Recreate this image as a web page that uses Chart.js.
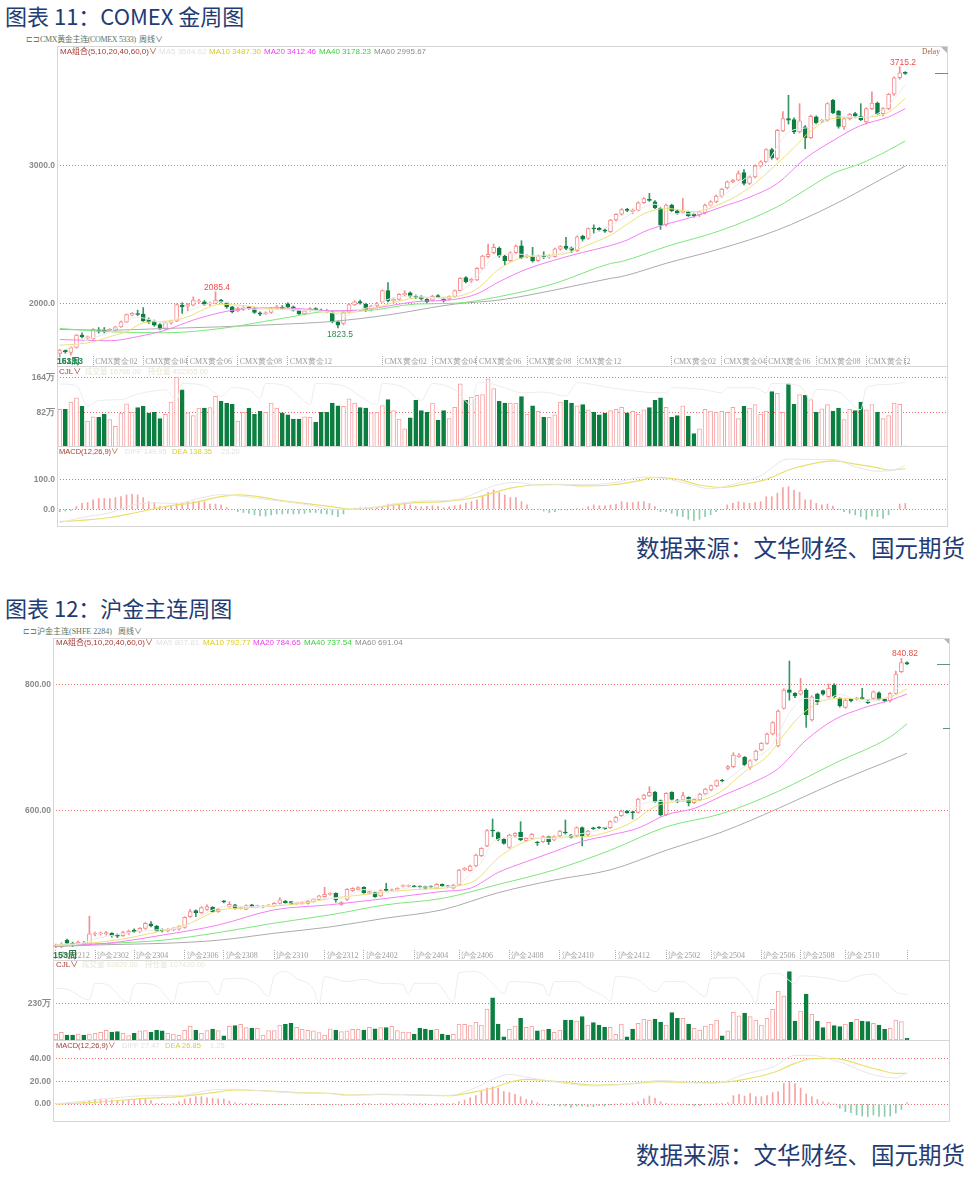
<!DOCTYPE html>
<html><head><meta charset="utf-8">
<script src="https://cdn.jsdelivr.net/npm/chart.js@4.4.1/dist/chart.umd.min.js"></script>
<style>
html,body{margin:0;padding:0;background:#fff}
body{position:relative;width:971px;height:1177px;overflow:hidden;font-family:"Noto Sans CJK SC",sans-serif}
canvas{position:absolute}
.t{position:absolute;white-space:nowrap;line-height:1;transform:translateY(-50%);z-index:3}
.title{font-size:22px;color:#1f3c74}
.src{font-size:23.5px;color:#1f3c74}
.hdr{font-size:8px;color:#5b735f;font-family:"Liberation Serif","Noto Sans CJK SC",serif}
.lg{font-size:8px;font-family:"Liberation Sans","Noto Sans CJK SC",sans-serif}
.pl{font-size:7.5px}
.rd{color:#a83a32}
.box{position:absolute;border:1px solid #d6d6d6;box-sizing:border-box;z-index:2}
.hl{position:absolute;height:1px;background:#d6d6d6;z-index:2}
.mk{position:absolute;z-index:2}
</style></head><body>

<div class="t title" style="left:5px;top:15px">图表 11：COMEX 金周图</div>
<div class="t hdr" style="left:26px;top:40px;font-size:7.5px;color:#6b806b">⊏⊐</div>
<div class="t hdr" style="left:40px;top:40px;letter-spacing:-0.35px">CMX黄金主连(COMEX 5333)</div>
<div class="t hdr" style="left:139px;top:40px">周线∨</div>
<div class="t lg rd" style="left:60px;top:52px">MA组合(5,10,20,40,60,0)∨</div>
<div class="t lg" style="left:159px;top:52px;color:#e2e2e2">MA5 3584.62</div>
<div class="t lg" style="left:209px;top:52px;color:#dccd1a">MA10 3487.30</div>
<div class="t lg" style="left:264px;top:52px;color:#f23cf2">MA20 3412.46</div>
<div class="t lg" style="left:319px;top:52px;color:#35d435">MA40 3178.23</div>
<div class="t lg" style="left:374px;top:52px;color:#8c8c8c">MA60 2995.67</div>
<div class="t hdr" style="left:922px;top:52px;font-size:7.5px;color:#a2603c">Delay</div>
<div class="t lg" style="left:204px;top:287px;font-size:8.5px;color:#f04a4a">2085.4</div>
<div class="t lg" style="left:327px;top:334px;font-size:8.5px;color:#2a8a55">1823.5</div>
<div class="t lg" style="left:890px;top:62px;font-size:8.5px;color:#f04a4a">3715.2</div>
<div class="t lg" style="left:57px;top:361px;font-size:8.5px;font-weight:bold;color:#2a8a55">1613.3</div>
<div class="t lg" style="left:57px;top:361px;font-size:8.5px;font-weight:bold;color:#2a8a55">153周</div>
<div class="t lg rd pl" style="left:59px;top:372px;font-size:8px">CJL∨</div>
<div class="t lg pl" style="left:85px;top:372px;color:#e9e5d3">成交量 16786.00</div>
<div class="t lg pl" style="left:148px;top:372px;color:#e9e5d3">持仓量 402355.00</div>
<div class="t lg rd pl" style="left:59px;top:451.5px">MACD(12,26,9)∨</div>
<div class="t lg pl" style="left:125px;top:451.5px;color:#e2e2e2">DIFF 149.95</div>
<div class="t lg pl" style="left:172px;top:451.5px;color:#dccd2a">DEA 138.35</div>
<div class="t lg pl" style="left:221px;top:451.5px;color:#e2e2e2">23.20</div>
<div class="t src" style="right:6px;top:548px">数据来源：文华财经、国元期货</div>
<div class="box" style="left:57px;top:46px;width:891px;height:481px"></div>
<div class="hl" style="left:57px;top:366px;width:891px"></div>
<div class="hl" style="left:57px;top:446px;width:891px"></div>
<div class="mk" style="left:935px;top:73px;width:13px;height:1px;background:#6f8f74"></div>
<div class="mk" style="left:941px;top:47px;width:0;height:0;border-top:6px solid #b5b5b5;border-left:6px solid transparent"></div>

<div class="t title" style="left:5px;top:607px">图表 12：沪金主连周图</div>
<div class="t hdr" style="left:23px;top:632px;font-size:7.5px;color:#6b806b">⊏⊐</div>
<div class="t hdr" style="left:37px;top:632px">沪金主连(SHFE 2284)</div>
<div class="t hdr" style="left:118px;top:632px">周线∨</div>
<div class="t lg rd" style="left:56px;top:643px">MA组合(5,10,20,40,60,0)∨</div>
<div class="t lg" style="left:156px;top:643px;color:#e2e2e2">MA5 807.81</div>
<div class="t lg" style="left:203px;top:643px;color:#dccd1a">MA10 792.77</div>
<div class="t lg" style="left:253px;top:643px;color:#f23cf2">MA20 784.65</div>
<div class="t lg" style="left:304px;top:643px;color:#35d435">MA40 737.54</div>
<div class="t lg" style="left:355px;top:643px;color:#8c8c8c">MA60 691.04</div>
<div class="t lg" style="left:892px;top:653px;font-size:8.5px;color:#f04a4a">840.82</div>
<div class="t lg" style="left:53px;top:955px;font-size:9px;font-weight:bold;color:#2a7a45">153周</div>
<div class="t lg rd pl" style="left:56px;top:965px;font-size:8px">CJL∨</div>
<div class="t lg pl" style="left:82px;top:965px;color:#e9e5d3">成交量 92820.00</div>
<div class="t lg pl" style="left:145px;top:965px;color:#e9e5d3">持仓量 107420.00</div>
<div class="t lg rd pl" style="left:56px;top:1046px">MACD(12,26,9)∨</div>
<div class="t lg pl" style="left:122px;top:1046px;color:#e2e2e2">DIFF 27.47</div>
<div class="t lg pl" style="left:165px;top:1046px;color:#dccd2a">DEA 26.85</div>
<div class="t lg pl" style="left:210px;top:1046px;color:#e2e2e2">1.25</div>
<div class="t src" style="right:6px;top:1155px">数据来源：文华财经、国元期货</div>
<div class="box" style="left:53px;top:638px;width:897px;height:484px"></div>
<div class="hl" style="left:53px;top:960px;width:897px"></div>
<div class="hl" style="left:53px;top:1040px;width:897px"></div>
<div class="mk" style="left:937px;top:664px;width:13px;height:1px;background:#6f8f74"></div>
<div class="mk" style="left:943px;top:728px;width:7px;height:1px;background:#6f8f74"></div>
<div class="mk" style="left:944px;top:639px;width:0;height:0;border-top:5px solid #b5b5b5;border-left:5px solid transparent"></div>

<script>
// ---------------- COMEX gold weekly (chart 11) ----------------
const cmxTickIdx  = [6,15,23,32,41,58,67,75,84,93,110,119,127,136,145,152];
const cmxTickText = ['CMX黄金02','CMX黄金04','CMX黄金06','CMX黄金08','CMX黄金12','CMX黄金02','CMX黄金04','CMX黄金06','CMX黄金08','CMX黄金12','CMX黄金02','CMX黄金04','CMX黄金06','CMX黄金08','CMX黄金12',' '];
const cmxOpen = [1638,1660,1645,1681,1771,1748,1746,1805,1805,1802, 1807,1831,1867,1915,1926,1923,1884,1872,1848,1819, 1858,1872,1988,1981,1988,2012,2012,1995,2005,2024, 2005,1976,1947,1957,1973,1964,1932,1926,1935,1964, 1970,1998,1976,1950,1925,1952,1964,1952,1943,1935, 1867,1855,1935,1990,2014,1996,1953,1982,2013,2093, 2020,2030,2062,2078,2054,2050,2030,2025,2057,2037, 2033,2050,2093,2187,2163,2170,2255,2340,2368,2400, 2344,2310,2368,2418,2340,2344,2310,2342,2336,2340, 2394,2416,2404,2383,2489,2472,2546,2545,2533,2520, 2605,2648,2680,2665,2677,2730,2753,2737,2689,2569, 2713,2672,2660,2665,2648,2641,2658,2713,2737,2778, 2838,2882,2894,2949,2870,2918,2995,3027,3116,3051, 3251,3340,3333,3243,3280,3202,3352,3320,3328,3472, 3395,3280,3340,3376,3357,3316,3412,3453,3376,3412, 3516,3636,3675];
const cmxHigh = [1668,1668,1686,1776,1787,1765,1818,1826,1826,1818, 1836,1872,1925,1935,1952,1971,1895,1880,1855,1868, 1880,1998,2005,2000,2048,2030,2022,2010,2085,2030, 2010,1980,1972,1978,1980,1970,1940,1940,1970,1985, 1985,2005,1982,1955,1952,1970,1970,1960,1955,1945, 1872,1940,2000,2020,2025,2000,1988,2008,2098,2151, 2040,2072,2093,2085,2062,2058,2035,2060,2065,2042, 2056,2098,2188,2195,2182,2260,2350,2431,2431,2410, 2350,2375,2425,2455,2355,2407,2350,2375,2352,2402, 2420,2480,2410,2490,2495,2548,2570,2552,2540,2610, 2652,2688,2690,2685,2738,2768,2798,2745,2695,2720, 2720,2680,2761,2670,2655,2670,2720,2745,2785,2835, 2888,2900,2960,2970,2925,3005,3035,3122,3125,3262, 3390,3509,3345,3448,3290,3365,3360,3335,3455,3480, 3400,3348,3378,3385,3448,3420,3533,3460,3420,3522, 3642,3715.2,3680];
const cmxLow = [1613,1640,1625,1676,1750,1742,1740,1785,1787,1795, 1800,1826,1862,1910,1912,1870,1855,1835,1810,1812, 1850,1868,1928,1947,1982,2000,1985,1985,2000,2005, 1965,1932,1940,1950,1955,1928,1912,1920,1928,1958, 1955,1970,1945,1920,1918,1945,1950,1940,1932,1860, 1823.5,1845,1930,1985,1995,1942,1945,1975,2008,2012, 2010,2025,2055,2045,2035,2025,2005,2018,2038,2010, 2025,2045,2088,2150,2150,2165,2250,2330,2360,2335, 2280,2305,2360,2325,2330,2300,2305,2325,2328,2335, 2385,2390,2370,2378,2450,2465,2508,2525,2515,2515, 2598,2640,2665,2650,2670,2725,2740,2688,2537,2560, 2665,2645,2655,2630,2625,2630,2650,2705,2730,2770, 2830,2875,2888,2860,2862,2910,2988,3020,3045,3040, 3245,3300,3230,3235,3122,3195,3300,3310,3320,3375, 3270,3262,3330,3345,3325,3300,3405,3370,3360,3405, 3508,3625,3660];
const cmxClose = [1662,1650,1681,1771,1758,1758,1812,1800,1798,1812, 1831,1867,1920,1928,1920,1874,1867,1843,1819,1862, 1872,1993,1976,1993,2024,2019,1995,2002,2024,2014, 1976,1940,1964,1971,1969,1935,1923,1932,1964,1976, 1965,1976,1950,1925,1947,1964,1955,1945,1940,1867, 1843,1935,1993,2013,2002,1948,1982,2001,2093,2020, 2030,2066,2074,2054,2045,2033,2013,2054,2045,2020, 2050,2093,2182,2158,2175,2255,2344,2356,2407,2344, 2310,2368,2416,2332,2346,2308,2344,2338,2344,2396, 2412,2399,2387,2484,2467,2542,2540,2533,2525,2605, 2646,2680,2675,2677,2730,2761,2747,2694,2569,2713, 2672,2653,2668,2636,2634,2665,2713,2737,2778,2829, 2882,2894,2942,2870,2918,2998,3027,3116,3055,3255, 3340,3328,3243,3323,3202,3357,3308,3325,3448,3381, 3284,3340,3371,3357,3333,3412,3453,3376,3412,3516, 3636,3672,3667];
const cmxMA5  = [[1,1650],[5,1720],[10,1795],[15,1900],[20,1860],[25,1960],[30,2012],[35,1960],[40,1955],[45,1950],[50,1934],[52,1906],[55,1957],[57,1975],[60,2030],[65,2055],[70,2035],[75,2150],[79,2330],[83,2360],[88,2335],[93,2400],[97,2505],[101,2585],[105,2680],[108,2720],[111,2650],[115,2650],[120,2775],[124,2900],[128,3020],[132,3240],[136,3280],[140,3360],[145,3350],[149,3400],[153,3584.62]];
const cmxMA10 = [[1,1698],[4,1705],[7,1722],[10,1760],[13,1795],[16,1860],[20,1872],[24,1903],[27,1960],[30,1995],[34,1985],[39,1962],[45,1955],[51,1930],[56,1950],[60,1995],[65,2040],[72,2050],[76,2106],[80,2250],[84,2330],[88,2348],[92,2363],[96,2425],[100,2495],[103,2575],[106,2650],[110,2689],[115,2665],[120,2725],[125,2840],[130,3015],[133,3130],[136,3250],[140,3340],[145,3348],[150,3386],[153,3487.3]];
const cmxMA20 = [[1,1739],[10,1730],[15,1760],[20,1807],[25,1880],[30,1935],[35,1965],[40,1969],[45,1960],[50,1947],[56,1957],[65,2013],[72,2030],[76,2070],[80,2158],[85,2250],[90,2315],[95,2370],[100,2420],[103,2460],[106,2520],[110,2575],[115,2629],[120,2700],[125,2770],[130,2870],[135,3050],[140,3180],[145,3290],[150,3352],[153,3412.46]];
const cmxMA40 = [[1,1819],[10,1795],[20,1788],[30,1819],[40,1885],[50,1945],[56,1948],[65,1996],[72,2002],[80,2050],[90,2146],[100,2290],[102,2304],[110,2412],[120,2532],[130,2701],[135,2822],[140,2942],[145,3014],[150,3111],[153,3178.23]];
const cmxMA60 = [[1,1812],[10,1807],[20,1819],[30,1831],[40,1848],[50,1870],[60,1917],[72,1996],[80,2025],[90,2098],[100,2182],[102,2195],[110,2291],[120,2400],[130,2532],[140,2713],[150,2930],[153,2995.67]];
const cmxVol = [89,89,106,116,96,61,71,70,78,65, 49,80,102,82,93,96,80,82,67,77, 106,165,135,81,74,92,92,93,120,108, 104,101,61,82,92,77,84,82,104,92, 81,76,66,66,71,70,58,82,82,104, 97,96,114,104,93,92,81,82,98,112, 86,66,43,69,110,86,82,104,63,86, 67,94,149,110,118,122,124,161,138,108, 104,104,104,119,78,97,84,70,70,76, 106,110,104,97,100,88,82,76,80,86, 89,94,81,84,78,88,93,110,116,94, 70,74,97,73,32,43,89,85,82,84, 82,94,67,96,92,100,78,85,131,127, 82,149,101,124,122,112,82,90,100,85, 92,65,89,86,106,88,100,82,67,74, 104,101,2];
const cmxOI = [[1,149],[4,145],[6,96],[8,110],[12,112],[15,125],[20,135],[22,110],[23,150],[27,145],[30,120],[32,140],[35,135],[37,115],[38,150],[42,142],[44,120],[46,100],[47,150],[52,145],[55,120],[58,100],[59,150],[63,140],[66,110],[68,150],[72,135],[75,100],[76,150],[77,153],[81,140],[84,128],[88,130],[92,120],[94,152],[100,140],[106,130],[110,128],[111,140],[117,135],[120,128],[121,140],[126,140],[128,128],[129,150],[134,145],[136,112],[137,136],[141,130],[145,88],[146,140],[150,148],[153,153]];
const cmxHist = [-8,-6,-4,9,20,23,32,37,37,37, 40,43,49,51,49,40,26,23,9,7, 9,20,20,26,26,28,26,18,18,15, 6,0,-8,-11,-14,-19,-23,-23,-19,-16, -16,-14,-16,-14,-14,-11,-11,-14,-16,-19, -25,-16,-2,3,6,6,3,6,9,18, 18,18,20,15,10,8,10,12,10,5, 8,12,15,20,26,32,43,58,66,57, 49,40,40,26,15,0,0,-6,-11,-8, -2,-2,-2,1,1,9,15,12,12,15, 18,26,23,23,26,26,20,9,-8,-8, -14,-23,-25,-34,-39,-34,-25,-19,-8,0, 15,20,26,23,20,23,26,43,43,55, 74,77,66,58,32,32,20,15,18,11, 0,-8,-14,-19,-25,-34,-23,-25,-31,-19, 0,18,20];
const cmxDEA  = [[1,-42],[6,-36],[10,-28],[15,-10],[20,9],[25,23],[30,43],[33,49],[36,45],[40,32],[45,20],[50,9],[53,1],[57,5],[60,12],[65,23],[70,26],[76,41],[82,72],[86,83],[90,85],[95,80],[100,83],[105,97],[108,109],[112,103],[116,83],[120,75],[124,86],[128,102],[132,134],[136,154],[140,165],[144,154],[148,142],[150,134],[153,138.35]];
const cmxDIFF = [[1,-46],[5,-28],[10,-12],[14,14],[18,22],[22,20],[26,37],[30,50],[34,44],[38,34],[42,25],[46,14],[50,0],[53,0],[58,8],[62,21],[66,28],[72,32],[76,57],[79,80],[83,92],[87,83],[91,84],[96,84],[101,92],[106,110],[110,104],[114,86],[118,70],[122,85],[127,115],[132,172],[136,170],[140,170],[144,145],[148,130],[151,134],[153,149.95]];

// ---------------- SHFE gold weekly (chart 12) ----------------
const sheTickIdx  = [0,7,14,23,30,39,48,55,64,72,81,90,100,109,117,126,133,141,152];
const sheTickText = ['沪金2212','沪金2302','沪金2304','沪金2306','沪金2308','沪金2310','沪金2312','沪金2402','沪金2404','沪金2406','沪金2408','沪金2410','沪金2412','沪金2502','沪金2504','沪金2506','沪金2508','沪金2510',' '];
const sheOpen = [386,386,396.4,391,390,392,390,405.4,406,406, 407,405,403.3,407,412.2,409.6,414.8,421.7,418.5,413.3, 410.6,412.2,413.3,416.4,433.3,442.7,439.6,444.8,448,441.1, 457.5,449,451.7,446,444.8,451.7,449,448.5,450,450.6, 454.3,458,456.9,453.8,454,454.3,456.9,460.6,464.8,468.5, 470.1,452.7,460.6,474.3,476.4,479.5,470.1,471.1,465.9,475.8, 474.5,475.3,481,481.2,481.5,481,480.6,481,478,484.3, 481.5,478,483.2,506.9,505.8,513.2,529.5,544.8,570,565.8, 555.3,542.7,560.5,566.3,553.2,556.9,550.8,551.6,559.5,554.2, 560.5,566.8,562.1,560.5,573.7,562.1,573,574.2,573.2,573.7, 583.2,592.6,600,598.4,597.9,618.9,623.7,629.5,616.3,593.7, 629.5,617.4,617.4,621.6,613.2,617.4,626.8,633.1,639.5,648.9, 667.3,670,685.7,684.7,668.9,680.5,696.3,706.8,721.5,702.6, 762,791.3,785.7,784.6,790.9,743.6,784.6,789.9,780.4,798.8, 777.8,763.6,776.2,776.8,778.3,773.6,777.8,786.7,776.2,773.6, 785.7,819.9,834.1];
const sheHigh = [390,392,398,393,395,394,434,409,409,410, 408,406,410,412,414,416,424,425.4,419.5,414, 415,416,419,433,444.8,444,449,451.7,449,446, 458.5,456.9,452.7,448.5,452,452.7,451.5,451,452.5,455.5, 463.2,459,457.5,456,456.5,459,462,467,479.5,471, 471,457,477.5,479,480.5,480.6,474,472,475.5,485.9, 477,479,483.5,483.4,482.5,482,481.5,482,485.5,485, 482.5,484.5,508,510.5,514.5,532,542,570.5,587.4,567, 556.5,563.5,566,583.2,558,564.5,552,561,560.5,561, 569.5,585.8,563,575,575,569.5,574.5,575.5,574,584.5, 591.5,601.5,601,599.5,620,626.5,638.4,631,617.5,629, 630.5,618.5,629.5,622.5,619.5,628,636,641,649,650, 672,692,690.5,686,681,696,708,723,741,759.5, 793,836.7,787,809.3,793,782,786,791,800.4,801, 779,776.5,777.5,779.5,793.6,775,789.5,788,777,787, 821,840.82,835.5];
const sheLow = [384,384,389,386,388,389,389,403,404,404, 401,400,402,405,408,408,413,417,410,409, 409,411,412,415,432,433.3,438,443,440,440, 455,448,445,445,444,448,448,447,449,449.5, 453,454,452,452.5,453,453,456,459.5,463.5,467, 456,451,459,473,475.5,470,469,463.5,465,473.5, 473.5,474,480,480.2,479,478.5,477,478.5,477,480.5, 479,477,482,506,505,512,528,543.5,559.5,553, 547.5,541,559,553,552,555.5,545.5,550.5,547,553, 559.5,563.5,557,559.5,544.8,561,570.5,572,571,572.5, 582,591.5,596,587.4,597,618,622.5,613.5,592,592.5, 617,613,616,608,612,616,626,632,638.5,646, 665,668.5,684.5,671,665.7,679,695,705.5,720,701, 761,775,779,783,732,742,768,783,779,779, 764,762,772,775,776,769.5,776.5,775,772,772, 784.5,818.5,831];
const sheClose = [388.5,390,391.2,388.5,393,390.5,406,407,407.5,408, 403.3,402.5,408,410.6,409.6,414.8,422.7,418.5,411.2,410.6, 413.3,414.8,417.5,432.3,441.1,439.6,447.5,449,441.1,444.8, 456.5,452.7,446.4,447,450.6,449,450,449.5,451,454.3, 459.6,455.4,453.2,454.8,455,458,461.1,465.9,468.5,469.5, 459.6,455.4,476.4,478,479,471.1,472.7,464.8,474.3,474.8, 475.8,478,482,482.2,480.3,480,478,480,484.3,481.6, 480.4,483.2,506.9,509.5,513.2,530.6,541.1,569,568.4,555.3, 549,562.1,564.7,554.2,556.9,563.2,549.5,559.5,551.6,559.5, 568.4,565.3,558.4,573.7,560.5,568.4,572,573.2,572.2,583.2, 590,600,597.4,597.4,618.9,625.2,629.5,614.7,593.7,627.9, 618.4,614.7,624.2,613.2,618.4,626.8,634.7,640,647.9,647.3, 670,688.4,688.4,672.6,679.4,694.7,706.8,721.5,739.4,757.8, 791,787.3,781.5,789.9,751.5,780.4,772.5,784.6,793.6,780.4, 765.7,775.2,774.1,777.8,777.3,771,788.3,776.2,773.6,785.7, 816.2,834.1,832];
const sheMA5  = [[1,388],[5,390],[8,398],[12,405],[16,410],[20,413],[24,418],[28,440],[32,450],[36,449],[40,451],[44,456],[48,462],[52,462],[56,476],[60,472],[64,479],[68,480],[72,481],[74,492],[77,520],[79,550],[82,558],[86,558],[90,556],[94,563],[98,570],[102,588],[106,612],[109,615],[113,617],[117,625],[121,650],[125,678],[129,705],[132,755],[135,778],[138,775],[141,784],[145,773],[149,778],[153,807.81]];
const sheMA10 = [[1,389],[10,394],[20,411],[25,423],[30,443],[35,447],[40,450],[45,454],[50,462],[55,467],[60,472],[65,476],[70,478],[73,482],[76,491],[80,526],[85,552],[90,559],[95,559],[100,568],[104,583],[108,607],[112,615],[116,617],[120,632],[124,662],[128,686],[131,720],[134,751],[138,774],[142,778],[146,776],[150,780],[153,792.77]];
const sheMA20 = [[1,387],[10,391],[20,404],[30,420],[40,444],[50,452],[60,462],[70,473],[75,478],[80,503],[85,520],[90,536],[95,552],[100,562],[105,573],[110,594],[115,604],[120,624],[125,643],[130,667],[135,712],[140,744],[145,762],[150,775],[153,784.65]];
const sheMA40 = [[1,389],[10,391],[20,396],[30,408],[40,423],[50,436],[60,452],[70,462],[80,484],[90,507],[100,538],[110,575],[120,596],[130,631],[140,675],[150,717],[153,737.54]];
const sheMA60 = [[1,386],[10,389],[20,391],[30,396],[40,407],[50,417],[60,431],[70,444],[80,471],[90,491],[100,507],[110,538],[120,567],[130,604],[140,644],[150,680],[153,691.04]];
const sheVol = [36,49,32,32,38,30,38,43,49,62, 51,53,43,28,43,58,60,49,62,58, 43,38,30,62,87,62,43,60,70,60, 26,87,92,100,79,75,75,32,60,60, 96,100,106,81,68,62,58,47,32,72, 62,53,58,68,68,64,81,72,79,79, 87,60,51,51,38,75,70,64,68,38, 32,36,102,100,92,113, 96,198,270,102,21,68,89,138,81,89, 58,64,68,49,64,128,128,121,149,96, 111,96,81,81,36,102,21,70,106,132, 128,134,113,96,175,138,138,102,75,64, 89,102,128,26,58,177,155,172,149,128, 96,138,196,313,281,437,121,185,294,164, 121,79,113,92,85,102,113,132,121,117, 106,96,68,75,128,117,11];
const sheOI = [[1,330],[3,324],[7,256],[8,362],[10,356],[14,239],[15,351],[16,362],[19,345],[22,239],[23,362],[28,373],[30,288],[31,388],[34,394],[37,351],[39,277],[40,409],[42,437],[44,394],[47,324],[48,234],[49,405],[53,373],[56,388],[59,362],[63,356],[64,292],[65,362],[69,362],[72,245],[73,430],[76,437],[77,426],[79,362],[81,298],[82,373],[88,351],[89,281],[90,373],[94,373],[96,330],[99,277],[100,249],[101,405],[105,383],[108,309],[110,373],[113,373],[115,324],[117,277],[118,394],[122,398],[125,298],[126,234],[127,405],[130,426],[133,362],[134,409],[139,394],[142,373],[144,405],[147,422],[149,373],[151,309],[153,288]];
const sheHist = [0.3,0.3,0.5,0.3,0.5,2,3,4,4.4,4, 3.5,3,2.6,3,3.5,4.4,4.4,3,0.6,0.6, 0,0.6,2,4.4,5,6.4,6.4,5.5,5,4.4, 4.4,2.6,1.2,0.6,0.3,0.3,0.2,-0.3,-0.5,-0.5, -0.6,-0.8,-0.6,-0.6,-0.6,-0.8,-0.6,-0.6,-0.5,-0.3, -0.8,-1.2,-0.5,-0.3,0.3,0.3,0.2,-0.3,0.2,0.3, 0.6,0.3,0.6,0.6,0.6,0.3,0.3,-0.2,0.2,0.3, 0.5,0.6,2,3.5,5.5,7.3, 11,14,15,14,11,10,8.5,6.4,4,3, 1.2,0,-1.5,-1.5,-1.8,-1.8,-3,-1.8,-1.8,-2.3, -2.3,-1.5,-1.8,-0.9,0,0.6,0.6,1.2,2,4.4, 7,5,2,0.6,0,0,0,-0.9,-1.5,-1.5, 0,0,0.6,0.6,1.2,7.3,8.5,7,9.3,6.4, 6.4,7.3,10,10.8,18,19.6,18,14,8.8,6.4, 4,2,1.2,0,-3.8,-6.7,-7.6,-9.6,-10.5,-11, -9.6,-11,-11,-10.5,-8,-4.7,1.25];
const sheDEA  = [[1,0],[8,1.5],[17,5],[23,6.4],[29,10],[33,12.3],[38,11.7],[44,10],[50,9.3],[53,7.9],[59,8.5],[65,7.9],[71,7.3],[76,10.8],[79,14],[82,19],[85,21.6],[91,19.6],[97,16.6],[103,17.5],[109,19.6],[115,18.7],[119,18.7],[124,21.6],[129,27.4],[133,35.6],[136,39.7],[140,40],[142,38.5],[145,34],[148,30],[151,26.9],[153,26.85]];
const sheDIFF = [[1,0.2],[8,3.5],[17,7.2],[23,7.4],[29,12.5],[33,12.9],[38,11.5],[44,9.7],[50,9.1],[53,7.6],[59,8.5],[65,8.2],[71,7.5],[76,14.4],[79,21.5],[82,26],[85,23.6],[91,18.7],[97,15.8],[103,17.5],[109,20.6],[115,18.7],[119,18.4],[124,26.2],[129,32.4],[133,42.6],[136,42.7],[140,38.1],[142,35.2],[145,28.8],[148,24.5],[151,22.9],[152,24.7],[153,27.47]];

// ---------------- rendering ----------------
const PINK='#f58e8e', GREEN='#0b7e40', GWICK='#3a9464', VPINK='#f7a1a1', HPOS='#f5a3a3', HNEG='#8dcdae';
const MAC={ma5:'#ebebeb', ma10:'#ece07a', ma20:'#f57ef5', ma40:'#7de67d', ma60:'#ababab'};
Chart.defaults.font.family='Liberation Sans';

function sparse(n, pairs){ const a=new Array(n).fill(null); pairs.forEach(p=>{ a[p[0]-1]=p[1]; }); return a; }
function canvasAt(top, w, h){
  const c=document.createElement('canvas');
  c.width=w; c.height=h;
  c.style.left='0px'; c.style.top=top+'px'; c.style.width=w+'px'; c.style.height=h+'px';
  document.body.appendChild(c); return c;
}
function zeroPad(s){ s.paddingTop=0; s.paddingBottom=0; s.paddingLeft=0; s.paddingRight=0; }
function yScale(axisW, min, max, ticks, fmt){
  return { type:'linear', position:'left', min:min, max:max,
    afterFit(s){ s.width=axisW; zeroPad(s); },
    afterBuildTicks(s){ s.ticks=ticks.map(v=>({value:v})); },
    ticks:{ callback:(v)=>fmt(v), color:'#8a8a8a', font:{family:'Liberation Sans', size:8.5, weight:'bold'}, padding:2, autoSkip:false },
    grid:{ color:'#f26c6c', lineWidth:1, drawTicks:false },
    border:{ display:false, dash:[1,2] } };
}
function xHidden(){ return { type:'category', offset:true, display:false, grid:{display:false} }; }
function xShown(){
  return { type:'category', offset:true,
    afterFit(s){ s.height=10; zeroPad(s); },
    grid:{ display:true, drawOnChartArea:false, drawTicks:true, tickLength:10, offset:false,
      tickColor:(ctx)=> (ctx.tick && ctx.tick.label) ? '#a9a9a9' : 'rgba(0,0,0,0)',
      tickBorderDash:[1,1], tickWidth:1 },
    border:{display:false},
    ticks:{ autoSkip:false, maxRotation:0, minRotation:0, align:'start', padding:-9,
      color:'#9c9c9c', font:{family:'Liberation Serif', size:8},
      callback(v){ const l=this.getLabelForValue(v); return l ? ' '+l : ''; } } };
}
function opts(padR, padT, x, y){
  return { responsive:false, maintainAspectRatio:false, animation:false, events:[], devicePixelRatio:1,
    layout:{ autoPadding:false, padding:{left:0,right:padR,top:padT,bottom:0} },
    plugins:{ legend:{display:false}, tooltip:{enabled:false} },
    scales:{ x:x, y:y } };
}
function lineDS(data, color, w){
  return { type:'line', data:data, borderColor:color, borderWidth:w||1, pointRadius:0, spanGaps:true,
    cubicInterpolationMode:'monotone', fill:false, order:0, clip:false };
}
function drawSet(S){
  const n=S.open.length;
  const up=S.open.map((o,i)=> S.close[i]>=o);
  const labels=new Array(S.slots).fill('');
  S.tickIdx.forEach((ix,k)=>{ labels[ix]=S.tickText[k]; });

  new Chart(canvasAt(S.priceTop, S.width, S.priceH), {
    type:'bar',
    data:{ labels:labels, datasets:[
      lineDS(sparse(n,S.ma5), MAC.ma5),
      lineDS(sparse(n,S.ma10), MAC.ma10),
      lineDS(sparse(n,S.ma20), MAC.ma20),
      lineDS(sparse(n,S.ma40), MAC.ma40),
      lineDS(sparse(n,S.ma60), MAC.ma60),
      { type:'bar', data:S.open.map((o,i)=>[o,S.close[i]]),
        backgroundColor:up.map(u=>u?'#ffffff':GREEN), borderColor:up.map(u=>u?PINK:GREEN),
        borderWidth:1, borderSkipped:false, barThickness:4, minBarLength:1, grouped:false, order:1, clip:false },
      { type:'bar', data:S.low.map((l,i)=>[l,S.high[i]]),
        backgroundColor:up.map(u=>u?PINK:GWICK), borderWidth:0, barThickness:1, grouped:false, order:2, clip:false }
    ]},
    options: opts(S.padR, S.pricePadT, xShown(), yScale(S.axisW, S.priceMin, S.priceMax, S.priceTicks, S.priceFmt))
  });

  new Chart(canvasAt(S.volTop, S.width, S.volH), {
    type:'bar',
    data:{ labels:labels, datasets:[
      lineDS(sparse(n,S.oi), '#ececec'),
      { type:'bar', data:S.vol, backgroundColor:up.map(u=>u?'#ffffff':GREEN), borderColor:up.map(u=>u?VPINK:GREEN),
        borderWidth:1, borderSkipped:false, barThickness:4, grouped:false, order:1 }
    ]},
    options: opts(S.padR, 0, xHidden(), yScale(S.axisW, 0, S.volMax, S.volTicks, v=>v+'万'))
  });

  new Chart(canvasAt(S.macdTop, S.width, S.macdH), {
    type:'bar',
    data:{ labels:labels, datasets:[
      lineDS(sparse(n,S.diff), '#e6e6e6'),
      lineDS(sparse(n,S.dea), '#ebdf6b', 1.2),
      { type:'bar', data:S.hist, backgroundColor:S.hist.map(h=>h>=0?HPOS:HNEG), barThickness:1, grouped:false, order:1 }
    ]},
    options: opts(S.padR, 0, xHidden(), yScale(S.axisW, S.macdMin, S.macdMax, S.macdTicks, S.macdFmt))
  });
}

drawSet({ slots:160, width:950, axisW:57, padR:3,
  priceTop:46, priceH:320, pricePadT:4, priceMin:1619.57, priceMax:3836.96, priceTicks:[2000,3000], priceFmt:v=>v.toFixed(1),
  volTop:366, volH:81, volMax:191.4, volTicks:[82,164],
  macdTop:447, macdH:79, macdMin:-57, macdMax:212.6, macdTicks:[0,100], macdFmt:v=>v.toFixed(1),
  open:cmxOpen, high:cmxHigh, low:cmxLow, close:cmxClose, vol:cmxVol, oi:cmxOI,
  ma5:cmxMA5, ma10:cmxMA10, ma20:cmxMA20, ma40:cmxMA40, ma60:cmxMA60,
  hist:cmxHist, dea:cmxDEA, diff:cmxDIFF, tickIdx:cmxTickIdx, tickText:cmxTickText });

drawSet({ slots:160, width:952, axisW:53, padR:3,
  priceTop:638, priceH:322, pricePadT:7, priceMin:380.58, priceMax:862.04, priceTicks:[600,800], priceFmt:v=>v.toFixed(2),
  volTop:960, volH:80, volMax:511.1, volTicks:[230],
  macdTop:1040, macdH:81, macdMin:-14.91, macdMax:56.14, macdTicks:[0,20,40], macdFmt:v=>v.toFixed(2),
  open:sheOpen, high:sheHigh, low:sheLow, close:sheClose, vol:sheVol, oi:sheOI,
  ma5:sheMA5, ma10:sheMA10, ma20:sheMA20, ma40:sheMA40, ma60:sheMA60,
  hist:sheHist, dea:sheDEA, diff:sheDIFF, tickIdx:sheTickIdx, tickText:sheTickText });
</script>
</body></html>
